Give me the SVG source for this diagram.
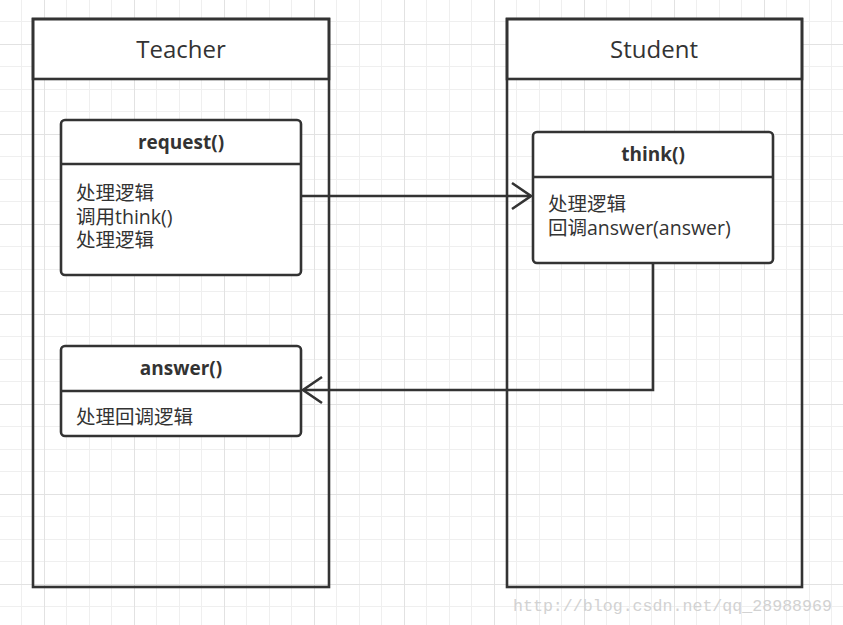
<svg xmlns="http://www.w3.org/2000/svg" width="843" height="625" viewBox="0 0 843 625">
<defs>
<style>
.minor{stroke:#efefef;stroke-width:1;fill:none}
.major{stroke:#e2e2e2;stroke-width:1;fill:none}
.frame{fill:none;stroke:#333;stroke-width:2.6}
.hdr{fill:#fff;stroke:#333;stroke-width:2.6}
.box{fill:#fff;stroke:#333;stroke-width:2.6}
.div{stroke:#333;stroke-width:2.6}
.title{font-family:"Open Sans","Noto Sans CJK SC",sans-serif;font-size:24px;fill:#333;text-anchor:middle}
.op{font-family:"Open Sans","Noto Sans CJK SC",sans-serif;font-size:19px;font-weight:bold;fill:#333;text-anchor:middle}
.body{font-family:"Open Sans","Noto Sans CJK SC",sans-serif;font-size:19.5px;fill:#333}
.conn{fill:none;stroke:#333;stroke-width:2.6}
.wm{font-family:"Liberation Mono",monospace;font-size:16.6px;fill:#d2d2d2}
</style>
<marker id="open" viewBox="0 0 22 30" refX="20" refY="15" markerWidth="22" markerHeight="30" orient="auto" markerUnits="userSpaceOnUse">
<path d="M1 2 L20 15 L1 28" fill="none" stroke="#333" stroke-width="2.6"/>
</marker>
</defs>
<rect width="843" height="625" fill="#fff"/>
<g id="grid" shape-rendering="crispEdges">
<path class="minor" d="M21.5 0V625M66.5 0V625M89 0V625M111.5 0V625M156.5 0V625M179 0V625M201.5 0V625M246.5 0V625M269 0V625M291.5 0V625M336.5 0V625M359 0V625M381.5 0V625M426.5 0V625M449 0V625M471.5 0V625M516.5 0V625M539 0V625M561.5 0V625M606.5 0V625M629 0V625M651.5 0V625M696.5 0V625M719 0V625M741.5 0V625M786.5 0V625M809 0V625M831.5 0V625 M0 21.5H843M0 66.5H843M0 89H843M0 111.5H843M0 156.5H843M0 179H843M0 201.5H843M0 246.5H843M0 269H843M0 291.5H843M0 336.5H843M0 359H843M0 381.5H843M0 426.5H843M0 449H843M0 471.5H843M0 516.5H843M0 539H843M0 561.5H843M0 606.5H843"/>
<path class="major" d="M44 0V625M134 0V625M224 0V625M314 0V625M404 0V625M494 0V625M584 0V625M674 0V625M764 0V625 M0 44H843M0 134H843M0 224H843M0 314H843M0 404H843M0 494H843M0 584H843"/>
</g>
<g id="teacher">
<rect class="hdr" x="33" y="19" width="296" height="60"/>
<rect class="frame" x="33" y="19" width="296" height="568"/>
<text class="title" x="181" y="58">Teacher</text>
</g>
<g id="student">
<rect class="hdr" x="507" y="19" width="295" height="60"/>
<rect class="frame" x="507" y="19" width="295" height="568"/>
<text class="title" x="654" y="58">Student</text>
</g>
<g id="connectors">
<path class="conn" d="M302 196 H531" marker-end="url(#open)"/>
<path class="conn" d="M653 263 V390 H303" marker-end="url(#open)"/>
</g>
<g id="request">
<rect class="box" x="61" y="120" width="240" height="155" rx="4"/>
<line class="div" x1="61" y1="164" x2="301" y2="164"/>
<text class="op" x="181" y="149">request()</text>
<text class="body" x="76" y="200">处理逻辑<tspan x="76" dy="23.5">调用think()</tspan><tspan x="76" dy="23.5">处理逻辑</tspan></text>
</g>
<g id="think">
<rect class="box" x="533" y="132" width="240" height="131" rx="4"/>
<line class="div" x1="533" y1="177" x2="773" y2="177"/>
<text class="op" x="653" y="161">think()</text>
<text class="body" x="548" y="211">处理逻辑<tspan x="548" dy="24">回调answer(answer)</tspan></text>
</g>
<g id="answer">
<rect class="box" x="61" y="346" width="240" height="90" rx="4"/>
<line class="div" x1="61" y1="391" x2="301" y2="391"/>
<text class="op" x="181" y="375">answer()</text>
<text class="body" x="76" y="424">处理回调逻辑</text>
</g>
<text class="wm" x="513" y="611" textLength="319" lengthAdjust="spacingAndGlyphs">http://blog.csdn.net/qq_28988969</text>
</svg>
